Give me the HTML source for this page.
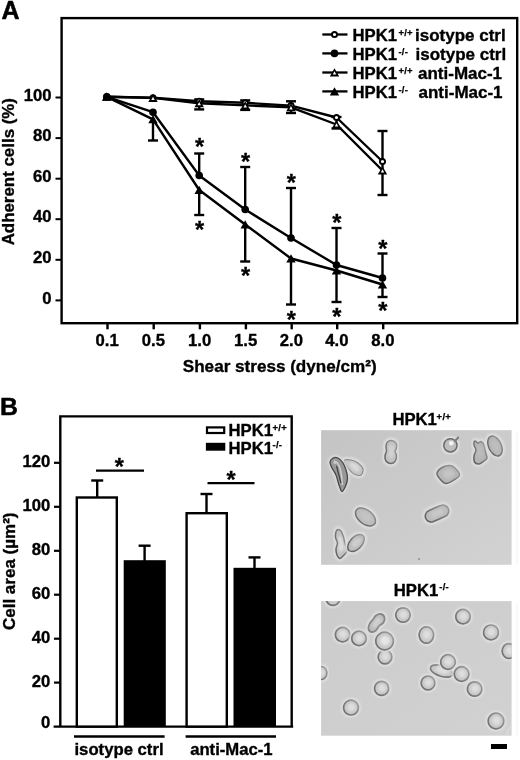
<!DOCTYPE html>
<html lang="en"><head><meta charset="utf-8"><title>Figure</title>
<style>html,body{margin:0;padding:0;background:#fff}svg{display:block}text{font-family:"Liberation Sans", Arial, sans-serif;font-weight:bold;fill:#000;stroke:#000;stroke-width:0.35px;stroke-linejoin:round}</style></head><body>
<svg width="520" height="760" viewBox="0 0 520 760">
<defs>
<filter id="bl" x="-20%" y="-20%" width="140%" height="140%"><feGaussianBlur stdDeviation="0.7"/></filter>
<filter id="bl2" x="-20%" y="-20%" width="140%" height="140%"><feGaussianBlur stdDeviation="1.2"/></filter>
<linearGradient id="bg1" x1="0" y1="0" x2="1" y2="1"><stop offset="0" stop-color="#c4c4c4"/><stop offset="1" stop-color="#d2d2d2"/></linearGradient>
<linearGradient id="bg2" x1="0" y1="0" x2="1" y2="1"><stop offset="0" stop-color="#cccccc"/><stop offset="1" stop-color="#d1d1d1"/></linearGradient>
<radialGradient id="cell" cx="0.5" cy="0.5" r="0.5"><stop offset="0" stop-color="#c2c2c2"/><stop offset="0.7" stop-color="#b8b8b8"/><stop offset="1" stop-color="#a8a8a8"/></radialGradient>
<linearGradient id="rg" x1="0" y1="1" x2="1" y2="0"><stop offset="0" stop-color="#6a6a6a"/><stop offset="0.55" stop-color="#858585"/><stop offset="1" stop-color="#a4a4a4"/></linearGradient>
<linearGradient id="rg1" x1="0" y1="1" x2="1" y2="0"><stop offset="0" stop-color="#5c5c5c"/><stop offset="0.5" stop-color="#787878"/><stop offset="1" stop-color="#a0a0a0"/></linearGradient>
<clipPath id="cp1"><rect x="321.1" y="430.2" width="190.5" height="134.6"/></clipPath>
<clipPath id="cp2"><rect x="321.1" y="601.1" width="190.5" height="134.6"/></clipPath>
</defs>
<rect width="520" height="760" fill="#fff"/>
<text x="1.6" y="19.2" font-size="25" style="stroke-width:0.5px">A</text>
<rect x="61.6" y="18.1" width="455.6" height="305.09999999999997" fill="none" stroke="#000" stroke-width="2.4"/>
<line x1="55.5" y1="300.4" x2="61.6" y2="300.4" stroke="#000" stroke-width="2"/>
<text x="51.6" y="303.6" font-size="16.7" text-anchor="end">0</text>
<line x1="55.5" y1="259.8" x2="61.6" y2="259.8" stroke="#000" stroke-width="2"/>
<text x="51.6" y="263.0" font-size="16.7" text-anchor="end">20</text>
<line x1="55.5" y1="219.2" x2="61.6" y2="219.2" stroke="#000" stroke-width="2"/>
<text x="51.6" y="222.4" font-size="16.7" text-anchor="end">40</text>
<line x1="55.5" y1="178.7" x2="61.6" y2="178.7" stroke="#000" stroke-width="2"/>
<text x="51.6" y="181.9" font-size="16.7" text-anchor="end">60</text>
<line x1="55.5" y1="138.1" x2="61.6" y2="138.1" stroke="#000" stroke-width="2"/>
<text x="51.6" y="141.3" font-size="16.7" text-anchor="end">80</text>
<line x1="55.5" y1="97.5" x2="61.6" y2="97.5" stroke="#000" stroke-width="2"/>
<text x="51.6" y="100.7" font-size="16.7" text-anchor="end">100</text>
<line x1="107.5" y1="323.2" x2="107.5" y2="329.3" stroke="#000" stroke-width="2.4"/>
<text x="107.2" y="346" font-size="16.7" text-anchor="middle">0.1</text>
<line x1="153.7" y1="323.2" x2="153.7" y2="329.3" stroke="#000" stroke-width="2.4"/>
<text x="153.39999999999998" y="346" font-size="16.7" text-anchor="middle">0.5</text>
<line x1="199.89999999999998" y1="323.2" x2="199.89999999999998" y2="329.3" stroke="#000" stroke-width="2.4"/>
<text x="199.59999999999997" y="346" font-size="16.7" text-anchor="middle">1.0</text>
<line x1="245.89999999999998" y1="323.2" x2="245.89999999999998" y2="329.3" stroke="#000" stroke-width="2.4"/>
<text x="245.59999999999997" y="346" font-size="16.7" text-anchor="middle">1.5</text>
<line x1="291.7" y1="323.2" x2="291.7" y2="329.3" stroke="#000" stroke-width="2.4"/>
<text x="291.4" y="346" font-size="16.7" text-anchor="middle">2.0</text>
<line x1="337.2" y1="323.2" x2="337.2" y2="329.3" stroke="#000" stroke-width="2.4"/>
<text x="336.9" y="346" font-size="16.7" text-anchor="middle">4.0</text>
<line x1="383.2" y1="323.2" x2="383.2" y2="329.3" stroke="#000" stroke-width="2.4"/>
<text x="382.9" y="346" font-size="16.7" text-anchor="middle">8.0</text>
<text x="279.7" y="371.8" font-size="17.1" text-anchor="middle">Shear stress (dyne/cm²)</text>
<text transform="translate(14,171.7) rotate(-90)" font-size="16.9" text-anchor="middle">Adherent cells (%)</text>
<line x1="199.2" y1="99.4" x2="199.2" y2="109.4" stroke="#000" stroke-width="2.4"/>
<line x1="194.2" y1="99.4" x2="204.2" y2="99.4" stroke="#000" stroke-width="2.4"/>
<line x1="194.2" y1="109.4" x2="204.2" y2="109.4" stroke="#000" stroke-width="2.4"/>
<line x1="245.2" y1="100.4" x2="245.2" y2="109.9" stroke="#000" stroke-width="2.4"/>
<line x1="240.2" y1="100.4" x2="250.2" y2="100.4" stroke="#000" stroke-width="2.4"/>
<line x1="240.2" y1="109.9" x2="250.2" y2="109.9" stroke="#000" stroke-width="2.4"/>
<line x1="291" y1="101.3" x2="291" y2="113" stroke="#000" stroke-width="2.4"/>
<line x1="286" y1="101.3" x2="296" y2="101.3" stroke="#000" stroke-width="2.4"/>
<line x1="286" y1="113" x2="296" y2="113" stroke="#000" stroke-width="2.4"/>
<line x1="336.5" y1="117" x2="336.5" y2="128.5" stroke="#000" stroke-width="2.4"/>
<line x1="331.5" y1="117" x2="341.5" y2="117" stroke="#000" stroke-width="2.4"/>
<line x1="331.5" y1="128.5" x2="341.5" y2="128.5" stroke="#000" stroke-width="2.4"/>
<line x1="382.5" y1="131" x2="382.5" y2="195" stroke="#000" stroke-width="2.4"/>
<line x1="377.5" y1="131" x2="387.5" y2="131" stroke="#000" stroke-width="2.4"/>
<line x1="377.5" y1="195" x2="387.5" y2="195" stroke="#000" stroke-width="2.4"/>
<line x1="199.2" y1="153.5" x2="199.2" y2="175.5" stroke="#000" stroke-width="2.4"/>
<line x1="194.2" y1="153.5" x2="204.2" y2="153.5" stroke="#000" stroke-width="2.4"/>
<line x1="245.2" y1="167" x2="245.2" y2="209.5" stroke="#000" stroke-width="2.4"/>
<line x1="240.2" y1="167" x2="250.2" y2="167" stroke="#000" stroke-width="2.4"/>
<line x1="291" y1="188" x2="291" y2="238" stroke="#000" stroke-width="2.4"/>
<line x1="286" y1="188" x2="296" y2="188" stroke="#000" stroke-width="2.4"/>
<line x1="336.5" y1="228" x2="336.5" y2="265" stroke="#000" stroke-width="2.4"/>
<line x1="331.5" y1="228" x2="341.5" y2="228" stroke="#000" stroke-width="2.4"/>
<line x1="382.5" y1="253.5" x2="382.5" y2="278" stroke="#000" stroke-width="2.4"/>
<line x1="377.5" y1="253.5" x2="387.5" y2="253.5" stroke="#000" stroke-width="2.4"/>
<line x1="153" y1="119.3" x2="153" y2="140.5" stroke="#000" stroke-width="2.4"/>
<line x1="148" y1="140.5" x2="158" y2="140.5" stroke="#000" stroke-width="2.4"/>
<line x1="199.2" y1="190" x2="199.2" y2="215" stroke="#000" stroke-width="2.4"/>
<line x1="194.2" y1="215" x2="204.2" y2="215" stroke="#000" stroke-width="2.4"/>
<line x1="245.2" y1="224.5" x2="245.2" y2="261.5" stroke="#000" stroke-width="2.4"/>
<line x1="240.2" y1="261.5" x2="250.2" y2="261.5" stroke="#000" stroke-width="2.4"/>
<line x1="291" y1="258.5" x2="291" y2="304.5" stroke="#000" stroke-width="2.4"/>
<line x1="286" y1="304.5" x2="296" y2="304.5" stroke="#000" stroke-width="2.4"/>
<line x1="336.5" y1="270.5" x2="336.5" y2="302" stroke="#000" stroke-width="2.4"/>
<line x1="331.5" y1="302" x2="341.5" y2="302" stroke="#000" stroke-width="2.4"/>
<line x1="382.5" y1="284.5" x2="382.5" y2="297" stroke="#000" stroke-width="2.4"/>
<line x1="377.5" y1="297" x2="387.5" y2="297" stroke="#000" stroke-width="2.4"/>
<polyline points="106.8,96.8 153,97.8 199.2,101.2 245.2,102.8 291,105.6 336.5,117.5 382.5,161.5" fill="none" stroke="#000" stroke-width="2.4" stroke-linejoin="round"/>
<polyline points="106.8,96.8 153,97.9 199.2,103.2 245.2,105.4 291,107.3 336.5,124.5 382.5,170.5" fill="none" stroke="#000" stroke-width="2.4" stroke-linejoin="round"/>
<polyline points="106.8,96.8 153,112.2 199.2,175.5 245.2,209.5 291,238 336.5,265 382.5,278" fill="none" stroke="#000" stroke-width="2.4" stroke-linejoin="round"/>
<polyline points="106.8,96.8 153,119.3 199.2,190 245.2,224.5 291,258.5 336.5,270.5 382.5,284.5" fill="none" stroke="#000" stroke-width="2.4" stroke-linejoin="round"/>
<circle cx="106.8" cy="96.8" r="2.55" fill="#fff" stroke="#000" stroke-width="1.9"/>
<circle cx="153" cy="97.8" r="2.55" fill="#fff" stroke="#000" stroke-width="1.9"/>
<circle cx="199.2" cy="101.2" r="2.55" fill="#fff" stroke="#000" stroke-width="1.9"/>
<circle cx="245.2" cy="102.8" r="2.55" fill="#fff" stroke="#000" stroke-width="1.9"/>
<circle cx="291" cy="105.6" r="2.55" fill="#fff" stroke="#000" stroke-width="1.9"/>
<circle cx="336.5" cy="117.5" r="2.55" fill="#fff" stroke="#000" stroke-width="1.9"/>
<circle cx="382.5" cy="161.5" r="2.55" fill="#fff" stroke="#000" stroke-width="1.9"/>
<path d="M106.8,92.6 L111.5,100.8 L102.1,100.8 Z" fill="#000"/>
<path d="M106.8,95.6 L108.5,98.89999999999999 L105.1,98.89999999999999 Z" fill="#fff"/>
<path d="M153,93.7 L157.7,101.9 L148.3,101.9 Z" fill="#000"/>
<path d="M153,96.7 L154.7,100.0 L151.3,100.0 Z" fill="#fff"/>
<path d="M199.2,99.0 L203.89999999999998,107.2 L194.5,107.2 Z" fill="#000"/>
<path d="M199.2,102.0 L200.89999999999998,105.3 L197.5,105.3 Z" fill="#fff"/>
<path d="M245.2,101.2 L249.89999999999998,109.4 L240.5,109.4 Z" fill="#000"/>
<path d="M245.2,104.2 L246.89999999999998,107.5 L243.5,107.5 Z" fill="#fff"/>
<path d="M291,103.1 L295.7,111.3 L286.3,111.3 Z" fill="#000"/>
<path d="M291,106.1 L292.7,109.39999999999999 L289.3,109.39999999999999 Z" fill="#fff"/>
<path d="M336.5,120.3 L341.2,128.5 L331.8,128.5 Z" fill="#000"/>
<path d="M336.5,123.3 L338.2,126.6 L334.8,126.6 Z" fill="#fff"/>
<path d="M382.5,166.3 L387.2,174.5 L377.8,174.5 Z" fill="#000"/>
<path d="M382.5,169.3 L384.2,172.6 L380.8,172.6 Z" fill="#fff"/>
<path d="M106.8,92.6 L111.5,100.8 L102.1,100.8 Z" fill="#000"/>
<path d="M153,115.1 L157.7,123.3 L148.3,123.3 Z" fill="#000"/>
<path d="M199.2,185.8 L203.89999999999998,194 L194.5,194 Z" fill="#000"/>
<path d="M245.2,220.3 L249.89999999999998,228.5 L240.5,228.5 Z" fill="#000"/>
<path d="M291,254.3 L295.7,262.5 L286.3,262.5 Z" fill="#000"/>
<path d="M336.5,266.3 L341.2,274.5 L331.8,274.5 Z" fill="#000"/>
<path d="M382.5,280.3 L387.2,288.5 L377.8,288.5 Z" fill="#000"/>
<circle cx="106.8" cy="96.8" r="3.8" fill="#000"/>
<circle cx="153" cy="112.2" r="3.8" fill="#000"/>
<circle cx="199.2" cy="175.5" r="3.8" fill="#000"/>
<circle cx="245.2" cy="209.5" r="3.8" fill="#000"/>
<circle cx="291" cy="238" r="3.8" fill="#000"/>
<circle cx="336.5" cy="265" r="3.8" fill="#000"/>
<circle cx="382.5" cy="278" r="3.8" fill="#000"/>
<text x="199.5" y="155.3" font-size="23.5" style="stroke-width:0.3px" text-anchor="middle">*</text>
<text x="245.5" y="170.3" font-size="23.5" style="stroke-width:0.3px" text-anchor="middle">*</text>
<text x="291.3" y="191.3" font-size="23.5" style="stroke-width:0.3px" text-anchor="middle">*</text>
<text x="336.8" y="230.8" font-size="23.5" style="stroke-width:0.3px" text-anchor="middle">*</text>
<text x="382.8" y="257.3" font-size="23.5" style="stroke-width:0.3px" text-anchor="middle">*</text>
<text x="199.5" y="238.3" font-size="23.5" style="stroke-width:0.3px" text-anchor="middle">*</text>
<text x="245.5" y="284.3" font-size="23.5" style="stroke-width:0.3px" text-anchor="middle">*</text>
<text x="291.3" y="327.8" font-size="23.5" style="stroke-width:0.3px" text-anchor="middle">*</text>
<text x="336.8" y="325.3" font-size="23.5" style="stroke-width:0.3px" text-anchor="middle">*</text>
<text x="382.8" y="319.3" font-size="23.5" style="stroke-width:0.3px" text-anchor="middle">*</text>
<line x1="322.3" y1="34.5" x2="347.5" y2="34.5" stroke="#000" stroke-width="2.3"/>
<circle cx="334.5" cy="34.5" r="2.55" fill="#fff" stroke="#000" stroke-width="1.9"/>
<text x="352.5" y="41.0" font-size="16.7">HPK1</text>
<text x="398.4" y="35.8" font-size="9.5" style="stroke-width:0.25px;letter-spacing:0.25px">+/+</text>
<text x="415" y="41.0" font-size="17">isotype ctrl</text>
<line x1="322.3" y1="53.4" x2="347.5" y2="53.4" stroke="#000" stroke-width="2.3"/>
<circle cx="334.5" cy="53.4" r="3.8" fill="#000"/>
<text x="352.5" y="59.9" font-size="16.7">HPK1</text>
<text x="398.4" y="54.699999999999996" font-size="9.5" style="stroke-width:0.25px;letter-spacing:0.25px">-/-</text>
<text x="415.5" y="60.3" font-size="17">isotype ctrl</text>
<line x1="322.3" y1="72.5" x2="347.5" y2="72.5" stroke="#000" stroke-width="2.3"/>
<path d="M334.5,68.3 L339.2,76.5 L329.8,76.5 Z" fill="#000"/>
<path d="M334.5,71.3 L336.2,74.6 L332.8,74.6 Z" fill="#fff"/>
<text x="352.5" y="79.0" font-size="16.7">HPK1</text>
<text x="398.4" y="73.8" font-size="9.5" style="stroke-width:0.25px;letter-spacing:0.25px">+/+</text>
<text x="418" y="79.0" font-size="17">anti-Mac-1</text>
<line x1="322.3" y1="91.4" x2="347.5" y2="91.4" stroke="#000" stroke-width="2.3"/>
<path d="M334.5,87.2 L339.2,95.4 L329.8,95.4 Z" fill="#000"/>
<text x="352.5" y="97.9" font-size="16.7">HPK1</text>
<text x="398.4" y="92.7" font-size="9.5" style="stroke-width:0.25px;letter-spacing:0.25px">-/-</text>
<text x="418.5" y="97.9" font-size="17">anti-Mac-1</text>
<text x="-0.1" y="415.4" font-size="24.8" style="stroke-width:0.5px">B</text>
<path d="M60.3,726.6 V416.4 H291.7 V726.6" fill="none" stroke="#000" stroke-width="2.4"/>
<line x1="53.6" y1="726.6" x2="293.2" y2="726.6" stroke="#000" stroke-width="2.4"/>
<text x="50.4" y="728.0" font-size="16.7" text-anchor="end">0</text>
<line x1="54" y1="682.6" x2="60" y2="682.6" stroke="#000" stroke-width="2.2"/>
<text x="50.4" y="686.6" font-size="16.7" text-anchor="end">20</text>
<line x1="54" y1="638.7" x2="60" y2="638.7" stroke="#000" stroke-width="2.2"/>
<text x="50.4" y="642.7" font-size="16.7" text-anchor="end">40</text>
<line x1="54" y1="594.7" x2="60" y2="594.7" stroke="#000" stroke-width="2.2"/>
<text x="50.4" y="598.7" font-size="16.7" text-anchor="end">60</text>
<line x1="54" y1="550.8" x2="60" y2="550.8" stroke="#000" stroke-width="2.2"/>
<text x="50.4" y="554.8" font-size="16.7" text-anchor="end">80</text>
<line x1="54" y1="506.8" x2="60" y2="506.8" stroke="#000" stroke-width="2.2"/>
<text x="50.4" y="510.8" font-size="16.7" text-anchor="end">100</text>
<line x1="54" y1="462.8" x2="60" y2="462.8" stroke="#000" stroke-width="2.2"/>
<text x="50.4" y="466.8" font-size="16.7" text-anchor="end">120</text>
<text transform="translate(14.5,571.3) rotate(-90)" font-size="17" text-anchor="middle">Cell area (µm²)</text>
<line x1="97.2" y1="497" x2="97.2" y2="480.5" stroke="#000" stroke-width="2.4"/>
<line x1="91.2" y1="480.5" x2="103.2" y2="480.5" stroke="#000" stroke-width="2.4"/>
<line x1="144.6" y1="561" x2="144.6" y2="545.7" stroke="#000" stroke-width="2.4"/>
<line x1="138.6" y1="545.7" x2="150.6" y2="545.7" stroke="#000" stroke-width="2.4"/>
<line x1="206.5" y1="512.5" x2="206.5" y2="494" stroke="#000" stroke-width="2.4"/>
<line x1="200.5" y1="494" x2="212.5" y2="494" stroke="#000" stroke-width="2.4"/>
<line x1="254.5" y1="568" x2="254.5" y2="557.4" stroke="#000" stroke-width="2.4"/>
<line x1="248.5" y1="557.4" x2="260.5" y2="557.4" stroke="#000" stroke-width="2.4"/>
<rect x="76.8" y="497.5" width="40.00000000000001" height="229.10000000000002" fill="#fff" stroke="#000" stroke-width="2.4"/>
<rect x="123.7" y="560.2" width="42.10000000000001" height="166.39999999999998" fill="#000"/>
<rect x="186.6" y="513.2" width="40.199999999999996" height="213.40000000000003" fill="#fff" stroke="#000" stroke-width="2.4"/>
<rect x="233.5" y="567.8" width="42.5" height="158.80000000000007" fill="#000"/>
<line x1="96" y1="470.6" x2="144" y2="470.6" stroke="#000" stroke-width="2.3"/>
<line x1="207.5" y1="483.2" x2="254.5" y2="483.2" stroke="#000" stroke-width="2.3"/>
<text x="119.4" y="475.3" font-size="23.5" style="stroke-width:0.3px" text-anchor="middle">*</text>
<text x="231" y="487.8" font-size="23.5" style="stroke-width:0.3px" text-anchor="middle">*</text>
<line x1="74" y1="736.6" x2="164.6" y2="736.6" stroke="#000" stroke-width="2.5"/>
<line x1="185.6" y1="736.6" x2="276" y2="736.6" stroke="#000" stroke-width="2.5"/>
<text x="119" y="754.6" font-size="16.7" text-anchor="middle">isotype ctrl</text>
<text x="231.4" y="754.6" font-size="16.7" text-anchor="middle">anti-Mac-1</text>
<rect x="207" y="427.4" width="17.2" height="5.6" fill="#fff" stroke="#000" stroke-width="2.2"/>
<rect x="205.9" y="442.8" width="19.4" height="7.9" fill="#000"/>
<text x="228.5" y="436.3" font-size="16.7">HPK1</text><text x="272.5" y="430.8" font-size="9.5" style="stroke-width:0.25px;letter-spacing:0.25px">+/+</text>
<text x="228.5" y="453.5" font-size="16.7">HPK1</text><text x="272.5" y="448" font-size="9.5" style="stroke-width:0.25px;letter-spacing:0.25px">-/-</text>
<text x="392.4" y="425.1" font-size="16.7">HPK1</text><text x="436.6" y="419.6" font-size="9.5" style="stroke-width:0.25px;letter-spacing:0.25px">+/+</text>
<text x="393.8" y="596.2" font-size="16.7">HPK1</text><text x="439.3" y="589.9" font-size="9.5" style="stroke-width:0.25px;letter-spacing:0.25px">-/-</text>
<rect x="321.1" y="430.2" width="190.5" height="134.6" fill="url(#bg1)"/>
<rect x="321.1" y="601.1" width="190.5" height="134.6" fill="url(#bg2)"/>
<g clip-path="url(#cp1)">
<path d="M391.5,440.5 C392.9,440.7 395.2,441.8 396.0,443.0 C396.8,444.2 396.7,446.6 396.5,448.0 C396.3,449.4 395.0,450.2 395.0,451.5 C395.0,452.8 396.5,454.3 396.5,456.0 C396.5,457.7 396.0,460.2 395.0,461.5 C394.0,462.8 392.0,463.6 390.5,463.5 C389.0,463.4 386.9,462.2 386.0,461.0 C385.1,459.8 384.9,457.7 385.0,456.0 C385.1,454.3 386.3,452.7 386.5,451.0 C386.7,449.3 385.8,447.5 386.0,446.0 C386.2,444.5 386.6,442.9 387.5,442.0 C388.4,441.1 390.1,440.3 391.5,440.5Z" fill="none" stroke="#dedede" stroke-width="5.9" filter="url(#bl2)"/>
<path d="M391.5,440.5 C392.9,440.7 395.2,441.8 396.0,443.0 C396.8,444.2 396.7,446.6 396.5,448.0 C396.3,449.4 395.0,450.2 395.0,451.5 C395.0,452.8 396.5,454.3 396.5,456.0 C396.5,457.7 396.0,460.2 395.0,461.5 C394.0,462.8 392.0,463.6 390.5,463.5 C389.0,463.4 386.9,462.2 386.0,461.0 C385.1,459.8 384.9,457.7 385.0,456.0 C385.1,454.3 386.3,452.7 386.5,451.0 C386.7,449.3 385.8,447.5 386.0,446.0 C386.2,444.5 386.6,442.9 387.5,442.0 C388.4,441.1 390.1,440.3 391.5,440.5Z" fill="#c2c2c2" stroke="url(#rg1)" stroke-width="1.5" filter="url(#bl)"/>
<path d="M391.7,445.1 C392.5,445.2 393.7,445.8 394.1,446.5 C394.6,447.2 394.5,448.5 394.4,449.3 C394.3,450.0 393.6,450.4 393.6,451.2 C393.6,451.9 394.4,452.7 394.4,453.7 C394.4,454.6 394.1,456.0 393.6,456.7 C393.0,457.4 391.9,457.8 391.1,457.8 C390.3,457.7 389.2,457.1 388.6,456.4 C388.1,455.7 388.1,454.6 388.1,453.7 C388.1,452.7 388.8,451.8 388.9,450.9 C389.0,450.0 388.6,449.0 388.6,448.2 C388.7,447.3 389.0,446.5 389.5,446.0 C390.0,445.4 390.9,445.0 391.7,445.1Z" fill="#d2d2d2" filter="url(#bl2)"/>
<path d="M344.0,461.0 C344.2,459.2 348.7,459.7 351.0,460.0 C353.3,460.3 356.0,461.5 358.0,463.0 C360.0,464.5 362.5,467.0 363.0,469.0 C363.5,471.0 362.3,474.1 361.0,475.0 C359.7,475.9 356.8,475.2 355.0,474.5 C353.2,473.8 351.8,472.8 350.0,470.5 C348.2,468.2 343.8,462.8 344.0,461.0Z" fill="none" stroke="#dedede" stroke-width="5.6000000000000005" filter="url(#bl2)"/>
<path d="M344.0,461.0 C344.2,459.2 348.7,459.7 351.0,460.0 C353.3,460.3 356.0,461.5 358.0,463.0 C360.0,464.5 362.5,467.0 363.0,469.0 C363.5,471.0 362.3,474.1 361.0,475.0 C359.7,475.9 356.8,475.2 355.0,474.5 C353.2,473.8 351.8,472.8 350.0,470.5 C348.2,468.2 343.8,462.8 344.0,461.0Z" fill="#c4c4c4" stroke="#8a8a8a" stroke-width="1.2" filter="url(#bl)"/>
<path d="M349.2,463.6 C349.2,462.6 351.7,462.8 353.0,463.0 C354.3,463.2 355.8,463.8 356.9,464.7 C358.0,465.5 359.3,466.9 359.6,468.0 C359.9,469.1 359.2,470.8 358.5,471.3 C357.8,471.8 356.2,471.4 355.2,471.0 C354.2,470.6 353.5,470.0 352.5,468.8 C351.4,467.5 349.1,464.5 349.2,463.6Z" fill="#dadada" filter="url(#bl2)"/>
<path d="M330.0,462.0 C330.2,460.3 331.7,458.7 333.0,458.0 C334.3,457.3 336.3,457.2 338.0,458.0 C339.7,458.8 341.7,461.0 343.0,463.0 C344.3,465.0 345.2,467.5 346.0,470.0 C346.8,472.5 347.5,475.5 347.5,478.0 C347.5,480.5 346.9,482.8 346.0,485.0 C345.1,487.2 343.2,491.5 342.0,491.5 C340.8,491.5 340.0,487.8 339.0,485.0 C338.0,482.2 337.2,477.8 336.0,475.0 C334.8,472.2 333.0,470.2 332.0,468.0 C331.0,465.8 329.8,463.7 330.0,462.0Z" fill="none" stroke="#dedede" stroke-width="4.5" filter="url(#bl2)"/>
<path d="M330.0,462.0 C330.2,460.3 331.7,458.7 333.0,458.0 C334.3,457.3 336.3,457.2 338.0,458.0 C339.7,458.8 341.7,461.0 343.0,463.0 C344.3,465.0 345.2,467.5 346.0,470.0 C346.8,472.5 347.5,475.5 347.5,478.0 C347.5,480.5 346.9,482.8 346.0,485.0 C345.1,487.2 343.2,491.5 342.0,491.5 C340.8,491.5 340.0,487.8 339.0,485.0 C338.0,482.2 337.2,477.8 336.0,475.0 C334.8,472.2 333.0,470.2 332.0,468.0 C331.0,465.8 329.8,463.7 330.0,462.0Z" fill="#989898" stroke="#484848" stroke-width="1.3" filter="url(#bl)"/>
<path d="M334,461 Q338,462 340,468 Q342,476 342.5,485" fill="none" stroke="#d2d2d2" stroke-width="1.4" filter="url(#bl)"/>
<path d="M336.5,466 Q338.5,474 341,483" fill="none" stroke="#3c3c3c" stroke-width="1.1" filter="url(#bl)"/>
<circle cx="335" cy="462.5" r="1.6" fill="#c8c8c8" filter="url(#bl)"/>
<path d="M457.0,445.3 C457.0,446.4 456.7,447.6 456.1,448.6 C455.6,449.6 454.7,450.5 453.7,451.0 C452.7,451.6 451.5,451.9 450.4,451.9 C449.3,451.9 448.1,451.6 447.1,451.0 C446.1,450.5 445.2,449.6 444.7,448.6 C444.1,447.6 443.8,446.4 443.8,445.3 C443.8,444.2 444.1,443.0 444.7,442.0 C445.2,441.0 446.1,440.1 447.1,439.6 C448.1,439.0 449.3,438.7 450.4,438.7 C451.5,438.7 452.7,439.0 453.7,439.6 C454.7,440.1 455.6,441.0 456.1,442.0 C456.7,443.0 457.0,444.2 457.0,445.3Z" fill="none" stroke="#dedede" stroke-width="5.9" filter="url(#bl2)"/>
<path d="M457.0,445.3 C457.0,446.4 456.7,447.6 456.1,448.6 C455.6,449.6 454.7,450.5 453.7,451.0 C452.7,451.6 451.5,451.9 450.4,451.9 C449.3,451.9 448.1,451.6 447.1,451.0 C446.1,450.5 445.2,449.6 444.7,448.6 C444.1,447.6 443.8,446.4 443.8,445.3 C443.8,444.2 444.1,443.0 444.7,442.0 C445.2,441.0 446.1,440.1 447.1,439.6 C448.1,439.0 449.3,438.7 450.4,438.7 C451.5,438.7 452.7,439.0 453.7,439.6 C454.7,440.1 455.6,441.0 456.1,442.0 C456.7,443.0 457.0,444.2 457.0,445.3Z" fill="#bebebe" stroke="#6a6a6a" stroke-width="1.5" filter="url(#bl)"/>
<path d="M455,441 L458.3,437.5" stroke="#808080" stroke-width="2.2" stroke-linecap="round" filter="url(#bl)"/>
<circle cx="451.3" cy="443.3" r="2.3" fill="#f4f4f4" filter="url(#bl)"/>
<path d="M475.0,441.0 C475.7,440.7 477.0,442.9 478.0,443.0 C479.0,443.1 480.0,441.2 481.0,441.5 C482.0,441.8 483.2,443.2 484.0,445.0 C484.8,446.8 485.0,449.8 485.5,452.0 C486.0,454.2 487.2,456.5 487.0,458.0 C486.8,459.5 485.3,460.0 484.0,461.0 C482.7,462.0 480.6,463.8 479.0,464.0 C477.4,464.2 475.3,463.3 474.5,462.0 C473.7,460.7 473.8,458.0 474.0,456.0 C474.2,454.0 476.0,451.8 476.0,450.0 C476.0,448.2 474.2,446.5 474.0,445.0 C473.8,443.5 474.3,441.3 475.0,441.0Z" fill="none" stroke="#dedede" stroke-width="5.9" filter="url(#bl2)"/>
<path d="M475.0,441.0 C475.7,440.7 477.0,442.9 478.0,443.0 C479.0,443.1 480.0,441.2 481.0,441.5 C482.0,441.8 483.2,443.2 484.0,445.0 C484.8,446.8 485.0,449.8 485.5,452.0 C486.0,454.2 487.2,456.5 487.0,458.0 C486.8,459.5 485.3,460.0 484.0,461.0 C482.7,462.0 480.6,463.8 479.0,464.0 C477.4,464.2 475.3,463.3 474.5,462.0 C473.7,460.7 473.8,458.0 474.0,456.0 C474.2,454.0 476.0,451.8 476.0,450.0 C476.0,448.2 474.2,446.5 474.0,445.0 C473.8,443.5 474.3,441.3 475.0,441.0Z" fill="#b4b4b4" stroke="url(#rg1)" stroke-width="1.5" filter="url(#bl)"/>
<path d="M477.3,445.3 C477.7,445.2 478.4,446.4 479.0,446.4 C479.5,446.5 480.1,445.4 480.6,445.6 C481.2,445.8 481.9,446.6 482.3,447.5 C482.7,448.5 482.8,450.2 483.1,451.4 C483.4,452.6 484.1,453.9 483.9,454.7 C483.8,455.5 483.0,455.8 482.3,456.3 C481.6,456.9 480.4,457.9 479.5,458.0 C478.7,458.1 477.5,457.6 477.1,456.9 C476.6,456.2 476.7,454.7 476.8,453.6 C476.9,452.5 477.9,451.3 477.9,450.3 C477.9,449.3 476.9,448.4 476.8,447.5 C476.7,446.7 477.0,445.5 477.3,445.3Z" fill="#bcbcbc" filter="url(#bl2)"/>
<path d="M500.7,443.3 C501.4,444.9 502.0,446.9 502.2,448.5 C502.3,450.0 502.2,451.7 501.7,452.9 C501.2,454.1 500.4,455.1 499.4,455.5 C498.5,456.0 497.2,456.0 496.0,455.6 C494.8,455.2 493.4,454.2 492.3,453.1 C491.2,451.9 490.0,450.2 489.3,448.7 C488.6,447.1 488.0,445.1 487.8,443.5 C487.7,442.0 487.8,440.3 488.3,439.1 C488.8,437.9 489.6,436.9 490.6,436.5 C491.5,436.0 492.8,436.0 494.0,436.4 C495.2,436.8 496.6,437.8 497.7,438.9 C498.8,440.1 500.0,441.8 500.7,443.3Z" fill="none" stroke="#dedede" stroke-width="5.9" filter="url(#bl2)"/>
<path d="M500.7,443.3 C501.4,444.9 502.0,446.9 502.2,448.5 C502.3,450.0 502.2,451.7 501.7,452.9 C501.2,454.1 500.4,455.1 499.4,455.5 C498.5,456.0 497.2,456.0 496.0,455.6 C494.8,455.2 493.4,454.2 492.3,453.1 C491.2,451.9 490.0,450.2 489.3,448.7 C488.6,447.1 488.0,445.1 487.8,443.5 C487.7,442.0 487.8,440.3 488.3,439.1 C488.8,437.9 489.6,436.9 490.6,436.5 C491.5,436.0 492.8,436.0 494.0,436.4 C495.2,436.8 496.6,437.8 497.7,438.9 C498.8,440.1 500.0,441.8 500.7,443.3Z" fill="#b6b6b6" stroke="url(#rg1)" stroke-width="1.5" filter="url(#bl)"/>
<path d="M498.5,444.1 C498.9,445.0 499.2,446.1 499.3,446.9 C499.4,447.8 499.3,448.8 499.1,449.4 C498.8,450.0 498.4,450.6 497.8,450.8 C497.3,451.1 496.6,451.1 495.9,450.9 C495.3,450.6 494.5,450.1 493.9,449.5 C493.3,448.9 492.7,447.9 492.3,447.1 C491.9,446.2 491.6,445.1 491.5,444.3 C491.4,443.4 491.5,442.4 491.7,441.8 C492.0,441.2 492.4,440.6 493.0,440.4 C493.5,440.1 494.2,440.1 494.9,440.3 C495.5,440.6 496.3,441.1 496.9,441.7 C497.5,442.3 498.1,443.3 498.5,444.1Z" fill="#bebebe" filter="url(#bl2)"/>
<path d="M437.0,473.0 C437.5,471.0 440.8,468.2 443.0,467.0 C445.2,465.8 448.0,465.3 450.0,465.5 C452.0,465.7 453.4,466.4 455.0,468.0 C456.6,469.6 459.7,473.0 459.5,475.0 C459.3,477.0 456.2,478.6 454.0,480.0 C451.8,481.4 448.3,483.7 446.0,483.5 C443.7,483.3 441.5,480.8 440.0,479.0 C438.5,477.2 436.5,475.0 437.0,473.0Z" fill="none" stroke="#dedede" stroke-width="5.9" filter="url(#bl2)"/>
<path d="M437.0,473.0 C437.5,471.0 440.8,468.2 443.0,467.0 C445.2,465.8 448.0,465.3 450.0,465.5 C452.0,465.7 453.4,466.4 455.0,468.0 C456.6,469.6 459.7,473.0 459.5,475.0 C459.3,477.0 456.2,478.6 454.0,480.0 C451.8,481.4 448.3,483.7 446.0,483.5 C443.7,483.3 441.5,480.8 440.0,479.0 C438.5,477.2 436.5,475.0 437.0,473.0Z" fill="#b6b6b6" stroke="url(#rg1)" stroke-width="1.5" filter="url(#bl)"/>
<path d="M442.4,473.0 C442.7,471.9 444.5,470.4 445.7,469.7 C446.9,469.0 448.4,468.8 449.5,468.9 C450.6,469.0 451.4,469.4 452.3,470.2 C453.1,471.1 454.8,473.0 454.8,474.1 C454.7,475.2 453.0,476.1 451.7,476.8 C450.5,477.6 448.6,478.9 447.3,478.8 C446.0,478.7 444.9,477.3 444.0,476.3 C443.2,475.3 442.1,474.1 442.4,473.0Z" fill="#c4c4c4" filter="url(#bl2)"/>
<path d="M374.6,524.1 C373.8,525.0 372.6,525.7 371.2,525.9 C369.8,526.1 368.0,525.9 366.3,525.3 C364.6,524.8 362.7,523.7 361.2,522.5 C359.7,521.3 358.2,519.7 357.2,518.2 C356.3,516.8 355.6,515.0 355.5,513.6 C355.4,512.2 355.7,510.8 356.4,509.9 C357.2,509.0 358.4,508.3 359.8,508.1 C361.2,507.9 363.0,508.1 364.7,508.7 C366.4,509.2 368.3,510.3 369.8,511.5 C371.3,512.7 372.8,514.3 373.8,515.8 C374.7,517.2 375.4,519.0 375.5,520.4 C375.6,521.8 375.3,523.2 374.6,524.1Z" fill="none" stroke="#dedede" stroke-width="5.9" filter="url(#bl2)"/>
<path d="M374.6,524.1 C373.8,525.0 372.6,525.7 371.2,525.9 C369.8,526.1 368.0,525.9 366.3,525.3 C364.6,524.8 362.7,523.7 361.2,522.5 C359.7,521.3 358.2,519.7 357.2,518.2 C356.3,516.8 355.6,515.0 355.5,513.6 C355.4,512.2 355.7,510.8 356.4,509.9 C357.2,509.0 358.4,508.3 359.8,508.1 C361.2,507.9 363.0,508.1 364.7,508.7 C366.4,509.2 368.3,510.3 369.8,511.5 C371.3,512.7 372.8,514.3 373.8,515.8 C374.7,517.2 375.4,519.0 375.5,520.4 C375.6,521.8 375.3,523.2 374.6,524.1Z" fill="#bcbcbc" stroke="url(#rg1)" stroke-width="1.5" filter="url(#bl)"/>
<path d="M370.9,520.5 C370.5,521.0 369.8,521.4 369.0,521.5 C368.3,521.6 367.3,521.5 366.3,521.2 C365.4,520.9 364.4,520.3 363.5,519.6 C362.7,519.0 361.9,518.1 361.4,517.3 C360.8,516.5 360.5,515.5 360.4,514.7 C360.3,514.0 360.5,513.2 360.9,512.7 C361.3,512.2 362.0,511.8 362.8,511.7 C363.5,511.6 364.5,511.7 365.5,512.0 C366.4,512.3 367.4,512.9 368.3,513.6 C369.1,514.2 369.9,515.1 370.4,515.9 C371.0,516.7 371.3,517.7 371.4,518.5 C371.5,519.2 371.3,520.0 370.9,520.5Z" fill="#c4c4c4" filter="url(#bl2)"/>
<path d="M337.0,530.0 C337.9,529.0 339.9,529.8 341.0,531.0 C342.1,532.2 342.8,534.8 343.5,537.0 C344.2,539.2 344.4,541.7 345.0,544.0 C345.6,546.3 347.2,549.2 347.0,551.0 C346.8,552.8 345.2,553.8 344.0,555.0 C342.8,556.2 341.2,558.5 340.0,558.5 C338.8,558.5 337.7,556.6 337.0,555.0 C336.3,553.4 335.9,551.0 336.0,549.0 C336.1,547.0 337.6,545.0 337.5,543.0 C337.4,541.0 335.6,539.2 335.5,537.0 C335.4,534.8 336.1,531.0 337.0,530.0Z" fill="none" stroke="#dedede" stroke-width="5.9" filter="url(#bl2)"/>
<path d="M337.0,530.0 C337.9,529.0 339.9,529.8 341.0,531.0 C342.1,532.2 342.8,534.8 343.5,537.0 C344.2,539.2 344.4,541.7 345.0,544.0 C345.6,546.3 347.2,549.2 347.0,551.0 C346.8,552.8 345.2,553.8 344.0,555.0 C342.8,556.2 341.2,558.5 340.0,558.5 C338.8,558.5 337.7,556.6 337.0,555.0 C336.3,553.4 335.9,551.0 336.0,549.0 C336.1,547.0 337.6,545.0 337.5,543.0 C337.4,541.0 335.6,539.2 335.5,537.0 C335.4,534.8 336.1,531.0 337.0,530.0Z" fill="#c2c2c2" stroke="url(#rg1)" stroke-width="1.5" filter="url(#bl)"/>
<path d="M338.9,536.2 C339.4,535.6 340.5,536.1 341.1,536.7 C341.7,537.4 342.1,538.8 342.5,540.0 C342.8,541.2 343.0,542.6 343.3,543.9 C343.6,545.1 344.5,546.7 344.4,547.7 C344.3,548.7 343.4,549.2 342.7,549.9 C342.1,550.6 341.2,551.8 340.5,551.8 C339.9,551.8 339.3,550.8 338.9,549.9 C338.5,549.0 338.3,547.7 338.3,546.6 C338.4,545.5 339.2,544.4 339.2,543.3 C339.1,542.2 338.1,541.2 338.1,540.0 C338.0,538.8 338.4,536.7 338.9,536.2Z" fill="#dedede" filter="url(#bl2)"/>
<path d="M363.0,535.5 C363.7,536.2 364.2,537.4 364.2,538.6 C364.3,539.8 363.9,541.4 363.3,542.8 C362.6,544.2 361.5,545.8 360.4,547.1 C359.2,548.3 357.7,549.5 356.3,550.3 C355.0,551.0 353.4,551.5 352.2,551.5 C351.0,551.5 349.8,551.1 349.0,550.5 C348.3,549.8 347.8,548.6 347.8,547.4 C347.7,546.2 348.1,544.6 348.7,543.2 C349.4,541.8 350.5,540.2 351.6,538.9 C352.8,537.7 354.3,536.5 355.7,535.7 C357.0,535.0 358.6,534.5 359.8,534.5 C361.0,534.5 362.2,534.9 363.0,535.5Z" fill="none" stroke="#dedede" stroke-width="5.9" filter="url(#bl2)"/>
<path d="M363.0,535.5 C363.7,536.2 364.2,537.4 364.2,538.6 C364.3,539.8 363.9,541.4 363.3,542.8 C362.6,544.2 361.5,545.8 360.4,547.1 C359.2,548.3 357.7,549.5 356.3,550.3 C355.0,551.0 353.4,551.5 352.2,551.5 C351.0,551.5 349.8,551.1 349.0,550.5 C348.3,549.8 347.8,548.6 347.8,547.4 C347.7,546.2 348.1,544.6 348.7,543.2 C349.4,541.8 350.5,540.2 351.6,538.9 C352.8,537.7 354.3,536.5 355.7,535.7 C357.0,535.0 358.6,534.5 359.8,534.5 C361.0,534.5 362.2,534.9 363.0,535.5Z" fill="#bcbcbc" stroke="url(#rg1)" stroke-width="1.5" filter="url(#bl)"/>
<path d="M360.2,538.5 C360.6,538.9 360.9,539.5 360.9,540.2 C360.9,540.8 360.8,541.7 360.4,542.5 C360.1,543.3 359.5,544.2 358.8,544.9 C358.2,545.5 357.3,546.2 356.6,546.6 C355.8,547.0 355.0,547.3 354.3,547.3 C353.6,547.3 353.0,547.1 352.6,546.7 C352.2,546.3 351.9,545.7 351.9,545.0 C351.9,544.4 352.0,543.5 352.4,542.7 C352.7,541.9 353.3,541.0 354.0,540.3 C354.6,539.7 355.5,539.0 356.2,538.6 C357.0,538.2 357.8,537.9 358.5,537.9 C359.2,537.9 359.8,538.1 360.2,538.5Z" fill="#cecece" filter="url(#bl2)"/>
<path d="M440.6,505.6 C443.1,504.6 442.6,505.0 443.5,505.1 C444.5,505.2 445.6,505.6 446.3,506.2 C447.1,506.7 447.8,507.6 448.2,508.5 C448.6,509.4 448.8,510.5 448.7,511.5 C448.6,512.4 448.2,513.5 447.6,514.3 C447.1,515.0 447.7,515.0 445.3,516.2 C442.9,517.4 435.9,520.5 433.4,521.4 C430.9,522.4 431.4,522.0 430.5,521.9 C429.5,521.8 428.4,521.4 427.7,520.8 C426.9,520.3 426.2,519.4 425.8,518.5 C425.4,517.6 425.2,516.5 425.3,515.5 C425.4,514.6 425.8,513.5 426.4,512.7 C426.9,512.0 426.3,512.0 428.7,510.8 C431.1,509.6 438.1,506.5 440.6,505.6Z" fill="none" stroke="#dedede" stroke-width="6.0" filter="url(#bl2)"/>
<path d="M440.6,505.6 C443.1,504.6 442.6,505.0 443.5,505.1 C444.5,505.2 445.6,505.6 446.3,506.2 C447.1,506.7 447.8,507.6 448.2,508.5 C448.6,509.4 448.8,510.5 448.7,511.5 C448.6,512.4 448.2,513.5 447.6,514.3 C447.1,515.0 447.7,515.0 445.3,516.2 C442.9,517.4 435.9,520.5 433.4,521.4 C430.9,522.4 431.4,522.0 430.5,521.9 C429.5,521.8 428.4,521.4 427.7,520.8 C426.9,520.3 426.2,519.4 425.8,518.5 C425.4,517.6 425.2,516.5 425.3,515.5 C425.4,514.6 425.8,513.5 426.4,512.7 C426.9,512.0 426.3,512.0 428.7,510.8 C431.1,509.6 438.1,506.5 440.6,505.6Z" fill="#bcbcbc" stroke="url(#rg1)" stroke-width="1.6" filter="url(#bl)"/>
<path d="M439.4,508.7 C440.7,508.2 440.5,508.4 441.0,508.5 C441.5,508.5 442.1,508.8 442.5,509.1 C443.0,509.4 443.4,509.9 443.6,510.3 C443.8,510.8 443.9,511.5 443.8,512.0 C443.8,512.5 443.6,513.1 443.2,513.5 C442.9,514.0 443.3,513.9 442.0,514.6 C440.7,515.2 436.8,516.9 435.4,517.5 C434.1,518.0 434.3,517.8 433.8,517.7 C433.3,517.7 432.7,517.4 432.3,517.1 C431.8,516.8 431.4,516.3 431.2,515.9 C431.0,515.4 430.9,514.7 431.0,514.2 C431.0,513.7 431.2,513.1 431.6,512.7 C431.9,512.2 431.5,512.3 432.8,511.6 C434.1,511.0 438.0,509.3 439.4,508.7Z" fill="#c8c8c8" filter="url(#bl2)"/>
<circle cx="419" cy="559" r="0.9" fill="#8a8a8a" filter="url(#bl)"/>
</g>
<g clip-path="url(#cp2)">
<path d="M381.0,614.0 C382.4,614.3 384.1,616.1 384.5,617.5 C384.9,618.9 384.4,621.1 383.5,622.5 C382.6,623.9 380.2,624.7 379.0,626.0 C377.8,627.3 377.2,629.5 376.0,630.5 C374.8,631.5 372.8,632.2 371.5,632.0 C370.2,631.8 368.8,630.3 368.5,629.0 C368.2,627.7 368.8,625.6 369.5,624.0 C370.2,622.4 371.9,620.9 373.0,619.5 C374.1,618.1 374.7,616.4 376.0,615.5 C377.3,614.6 379.6,613.7 381.0,614.0Z" fill="none" stroke="#e0e0e0" stroke-width="5.4" filter="url(#bl2)"/>
<path d="M381.0,614.0 C382.4,614.3 384.1,616.1 384.5,617.5 C384.9,618.9 384.4,621.1 383.5,622.5 C382.6,623.9 380.2,624.7 379.0,626.0 C377.8,627.3 377.2,629.5 376.0,630.5 C374.8,631.5 372.8,632.2 371.5,632.0 C370.2,631.8 368.8,630.3 368.5,629.0 C368.2,627.7 368.8,625.6 369.5,624.0 C370.2,622.4 371.9,620.9 373.0,619.5 C374.1,618.1 374.7,616.4 376.0,615.5 C377.3,614.6 379.6,613.7 381.0,614.0Z" fill="#bdbdbd" stroke="#858585" stroke-width="1.8" filter="url(#bl)"/>
<path d="M379.3,617.7 C380.0,617.9 381.0,618.8 381.2,619.6 C381.4,620.4 381.1,621.6 380.6,622.3 C380.1,623.1 378.8,623.5 378.2,624.3 C377.5,625.0 377.2,626.2 376.5,626.7 C375.8,627.3 374.7,627.7 374.0,627.6 C373.3,627.4 372.6,626.7 372.4,625.9 C372.2,625.2 372.5,624.0 372.9,623.2 C373.4,622.3 374.3,621.5 374.9,620.7 C375.5,619.9 375.8,619.0 376.5,618.5 C377.2,618.0 378.5,617.5 379.3,617.7Z" fill="#d0d0d0" filter="url(#bl2)"/>
<path d="M452.4,674.6 C452.2,675.4 451.3,676.2 450.2,676.6 C449.0,677.0 447.3,677.2 445.6,677.1 C443.8,677.0 441.7,676.6 439.9,676.0 C438.0,675.4 436.1,674.5 434.6,673.6 C433.2,672.7 431.9,671.5 431.2,670.4 C430.5,669.4 430.3,668.3 430.6,667.4 C430.8,666.6 431.7,665.8 432.8,665.4 C434.0,665.0 435.7,664.8 437.4,664.9 C439.2,665.0 441.3,665.4 443.1,666.0 C445.0,666.6 446.9,667.5 448.4,668.4 C449.8,669.3 451.1,670.5 451.8,671.6 C452.5,672.6 452.7,673.7 452.4,674.6Z" fill="none" stroke="#e0e0e0" stroke-width="5.3" filter="url(#bl2)"/>
<path d="M452.4,674.6 C452.2,675.4 451.3,676.2 450.2,676.6 C449.0,677.0 447.3,677.2 445.6,677.1 C443.8,677.0 441.7,676.6 439.9,676.0 C438.0,675.4 436.1,674.5 434.6,673.6 C433.2,672.7 431.9,671.5 431.2,670.4 C430.5,669.4 430.3,668.3 430.6,667.4 C430.8,666.6 431.7,665.8 432.8,665.4 C434.0,665.0 435.7,664.8 437.4,664.9 C439.2,665.0 441.3,665.4 443.1,666.0 C445.0,666.6 446.9,667.5 448.4,668.4 C449.8,669.3 451.1,670.5 451.8,671.6 C452.5,672.6 452.7,673.7 452.4,674.6Z" fill="#c8c8c8" stroke="url(#rg)" stroke-width="1.7" filter="url(#bl)"/>
<path d="M447.9,672.6 C447.8,673.0 447.3,673.4 446.7,673.7 C446.0,673.9 445.1,674.0 444.1,674.0 C443.2,673.9 442.0,673.7 441.0,673.4 C440.0,673.0 438.9,672.5 438.1,672.0 C437.3,671.5 436.6,670.9 436.2,670.3 C435.9,669.7 435.7,669.1 435.9,668.6 C436.0,668.2 436.5,667.8 437.1,667.5 C437.8,667.3 438.7,667.2 439.7,667.2 C440.6,667.3 441.8,667.5 442.8,667.8 C443.8,668.2 444.9,668.7 445.7,669.2 C446.5,669.7 447.2,670.3 447.6,670.9 C447.9,671.5 448.1,672.1 447.9,672.6Z" fill="#dedede" filter="url(#bl2)"/>
<path d="M340.0,598.3 C340.0,599.5 339.6,600.8 339.1,601.8 C338.5,602.8 337.5,603.8 336.5,604.4 C335.5,604.9 334.2,605.3 333.0,605.3 C331.8,605.3 330.5,604.9 329.5,604.4 C328.5,603.8 327.5,602.8 326.9,601.8 C326.4,600.8 326.0,599.5 326.0,598.3 C326.0,597.1 326.4,595.8 326.9,594.8 C327.5,593.8 328.5,592.8 329.5,592.2 C330.5,591.7 331.8,591.3 333.0,591.3 C334.2,591.3 335.5,591.7 336.5,592.2 C337.5,592.8 338.5,593.8 339.1,594.8 C339.6,595.8 340.0,597.1 340.0,598.3Z" fill="none" stroke="#e0e0e0" stroke-width="5.3" filter="url(#bl2)"/>
<path d="M340.0,598.3 C340.0,599.5 339.6,600.8 339.1,601.8 C338.5,602.8 337.5,603.8 336.5,604.4 C335.5,604.9 334.2,605.3 333.0,605.3 C331.8,605.3 330.5,604.9 329.5,604.4 C328.5,603.8 327.5,602.8 326.9,601.8 C326.4,600.8 326.0,599.5 326.0,598.3 C326.0,597.1 326.4,595.8 326.9,594.8 C327.5,593.8 328.5,592.8 329.5,592.2 C330.5,591.7 331.8,591.3 333.0,591.3 C334.2,591.3 335.5,591.7 336.5,592.2 C337.5,592.8 338.5,593.8 339.1,594.8 C339.6,595.8 340.0,597.1 340.0,598.3Z" fill="#c8c8c8" stroke="url(#rg)" stroke-width="1.7" filter="url(#bl)"/>
<path d="M337.2,597.9 C337.2,598.5 337.1,599.3 336.7,599.8 C336.4,600.4 335.9,600.9 335.3,601.2 C334.8,601.6 334.0,601.8 333.4,601.8 C332.8,601.8 332.0,601.6 331.5,601.2 C330.9,600.9 330.4,600.4 330.1,599.8 C329.7,599.3 329.5,598.5 329.5,597.9 C329.5,597.3 329.7,596.5 330.1,596.0 C330.4,595.4 330.9,594.9 331.5,594.6 C332.0,594.2 332.8,594.0 333.4,594.0 C334.0,594.0 334.8,594.2 335.3,594.6 C335.9,594.9 336.4,595.4 336.7,596.0 C337.1,596.5 337.2,597.3 337.2,597.9Z" fill="#dedede" filter="url(#bl2)"/>
<path d="M349.8,634.6 C349.8,635.8 349.4,637.2 348.8,638.2 C348.2,639.2 347.2,640.2 346.2,640.8 C345.2,641.4 343.8,641.8 342.6,641.8 C341.4,641.8 340.0,641.4 339.0,640.8 C338.0,640.2 337.0,639.2 336.4,638.2 C335.8,637.2 335.4,635.8 335.4,634.6 C335.4,633.4 335.8,632.0 336.4,631.0 C337.0,630.0 338.0,629.0 339.0,628.4 C340.0,627.8 341.4,627.4 342.6,627.4 C343.8,627.4 345.2,627.8 346.2,628.4 C347.2,629.0 348.2,630.0 348.8,631.0 C349.4,632.0 349.8,633.4 349.8,634.6Z" fill="none" stroke="#e0e0e0" stroke-width="5.3" filter="url(#bl2)"/>
<path d="M349.8,634.6 C349.8,635.8 349.4,637.2 348.8,638.2 C348.2,639.2 347.2,640.2 346.2,640.8 C345.2,641.4 343.8,641.8 342.6,641.8 C341.4,641.8 340.0,641.4 339.0,640.8 C338.0,640.2 337.0,639.2 336.4,638.2 C335.8,637.2 335.4,635.8 335.4,634.6 C335.4,633.4 335.8,632.0 336.4,631.0 C337.0,630.0 338.0,629.0 339.0,628.4 C340.0,627.8 341.4,627.4 342.6,627.4 C343.8,627.4 345.2,627.8 346.2,628.4 C347.2,629.0 348.2,630.0 348.8,631.0 C349.4,632.0 349.8,633.4 349.8,634.6Z" fill="#c8c8c8" stroke="url(#rg)" stroke-width="1.7" filter="url(#bl)"/>
<path d="M347.0,634.2 C347.0,634.9 346.8,635.6 346.4,636.2 C346.1,636.8 345.6,637.3 345.0,637.6 C344.4,638.0 343.7,638.2 343.0,638.2 C342.3,638.2 341.6,638.0 341.0,637.6 C340.4,637.3 339.9,636.8 339.6,636.2 C339.2,635.6 339.0,634.9 339.0,634.2 C339.0,633.5 339.2,632.8 339.6,632.2 C339.9,631.6 340.4,631.1 341.0,630.8 C341.6,630.4 342.3,630.2 343.0,630.2 C343.7,630.2 344.4,630.4 345.0,630.8 C345.6,631.1 346.1,631.6 346.4,632.2 C346.8,632.8 347.0,633.5 347.0,634.2Z" fill="#dedede" filter="url(#bl2)"/>
<path d="M366.2,638.4 C366.2,639.6 365.8,641.0 365.2,642.0 C364.6,643.0 363.6,644.0 362.6,644.6 C361.6,645.2 360.2,645.6 359.0,645.6 C357.8,645.6 356.4,645.2 355.4,644.6 C354.4,644.0 353.4,643.0 352.8,642.0 C352.2,641.0 351.8,639.6 351.8,638.4 C351.8,637.2 352.2,635.8 352.8,634.8 C353.4,633.8 354.4,632.8 355.4,632.2 C356.4,631.6 357.8,631.2 359.0,631.2 C360.2,631.2 361.6,631.6 362.6,632.2 C363.6,632.8 364.6,633.8 365.2,634.8 C365.8,635.8 366.2,637.2 366.2,638.4Z" fill="none" stroke="#e0e0e0" stroke-width="5.3" filter="url(#bl2)"/>
<path d="M366.2,638.4 C366.2,639.6 365.8,641.0 365.2,642.0 C364.6,643.0 363.6,644.0 362.6,644.6 C361.6,645.2 360.2,645.6 359.0,645.6 C357.8,645.6 356.4,645.2 355.4,644.6 C354.4,644.0 353.4,643.0 352.8,642.0 C352.2,641.0 351.8,639.6 351.8,638.4 C351.8,637.2 352.2,635.8 352.8,634.8 C353.4,633.8 354.4,632.8 355.4,632.2 C356.4,631.6 357.8,631.2 359.0,631.2 C360.2,631.2 361.6,631.6 362.6,632.2 C363.6,632.8 364.6,633.8 365.2,634.8 C365.8,635.8 366.2,637.2 366.2,638.4Z" fill="#c8c8c8" stroke="url(#rg)" stroke-width="1.7" filter="url(#bl)"/>
<path d="M363.4,638.0 C363.4,638.7 363.2,639.4 362.8,640.0 C362.5,640.6 362.0,641.1 361.4,641.4 C360.8,641.8 360.1,642.0 359.4,642.0 C358.7,642.0 358.0,641.8 357.4,641.4 C356.8,641.1 356.3,640.6 356.0,640.0 C355.6,639.4 355.4,638.7 355.4,638.0 C355.4,637.3 355.6,636.6 356.0,636.0 C356.3,635.4 356.8,634.9 357.4,634.6 C358.0,634.2 358.7,634.0 359.4,634.0 C360.1,634.0 360.8,634.2 361.4,634.6 C362.0,634.9 362.5,635.4 362.8,636.0 C363.2,636.6 363.4,637.3 363.4,638.0Z" fill="#dedede" filter="url(#bl2)"/>
<path d="M410.2,615.0 C410.2,616.2 409.8,617.6 409.2,618.6 C408.6,619.6 407.6,620.6 406.6,621.2 C405.6,621.8 404.2,622.2 403.0,622.2 C401.8,622.2 400.4,621.8 399.4,621.2 C398.4,620.6 397.4,619.6 396.8,618.6 C396.2,617.6 395.8,616.2 395.8,615.0 C395.8,613.8 396.2,612.4 396.8,611.4 C397.4,610.4 398.4,609.4 399.4,608.8 C400.4,608.2 401.8,607.8 403.0,607.8 C404.2,607.8 405.6,608.2 406.6,608.8 C407.6,609.4 408.6,610.4 409.2,611.4 C409.8,612.4 410.2,613.8 410.2,615.0Z" fill="none" stroke="#e0e0e0" stroke-width="5.3" filter="url(#bl2)"/>
<path d="M410.2,615.0 C410.2,616.2 409.8,617.6 409.2,618.6 C408.6,619.6 407.6,620.6 406.6,621.2 C405.6,621.8 404.2,622.2 403.0,622.2 C401.8,622.2 400.4,621.8 399.4,621.2 C398.4,620.6 397.4,619.6 396.8,618.6 C396.2,617.6 395.8,616.2 395.8,615.0 C395.8,613.8 396.2,612.4 396.8,611.4 C397.4,610.4 398.4,609.4 399.4,608.8 C400.4,608.2 401.8,607.8 403.0,607.8 C404.2,607.8 405.6,608.2 406.6,608.8 C407.6,609.4 408.6,610.4 409.2,611.4 C409.8,612.4 410.2,613.8 410.2,615.0Z" fill="#c8c8c8" stroke="url(#rg)" stroke-width="1.7" filter="url(#bl)"/>
<path d="M407.4,614.6 C407.4,615.3 407.2,616.0 406.8,616.6 C406.5,617.2 406.0,617.7 405.4,618.0 C404.8,618.4 404.1,618.6 403.4,618.6 C402.7,618.6 402.0,618.4 401.4,618.0 C400.8,617.7 400.3,617.2 400.0,616.6 C399.6,616.0 399.4,615.3 399.4,614.6 C399.4,613.9 399.6,613.2 400.0,612.6 C400.3,612.0 400.8,611.5 401.4,611.2 C402.0,610.8 402.7,610.6 403.4,610.6 C404.1,610.6 404.8,610.8 405.4,611.2 C406.0,611.5 406.5,612.0 406.8,612.6 C407.2,613.2 407.4,613.9 407.4,614.6Z" fill="#dedede" filter="url(#bl2)"/>
<path d="M391.8,657.0 C391.8,658.1 391.5,659.4 390.9,660.4 C390.3,661.4 389.4,662.3 388.4,662.9 C387.4,663.5 386.1,663.8 385.0,663.8 C383.9,663.8 382.6,663.5 381.6,662.9 C380.6,662.3 379.7,661.4 379.1,660.4 C378.5,659.4 378.2,658.1 378.2,657.0 C378.2,655.9 378.5,654.6 379.1,653.6 C379.7,652.6 380.6,651.7 381.6,651.1 C382.6,650.5 383.9,650.2 385.0,650.2 C386.1,650.2 387.4,650.5 388.4,651.1 C389.4,651.7 390.3,652.6 390.9,653.6 C391.5,654.6 391.8,655.9 391.8,657.0Z" fill="none" stroke="#e0e0e0" stroke-width="5.3" filter="url(#bl2)"/>
<path d="M391.8,657.0 C391.8,658.1 391.5,659.4 390.9,660.4 C390.3,661.4 389.4,662.3 388.4,662.9 C387.4,663.5 386.1,663.8 385.0,663.8 C383.9,663.8 382.6,663.5 381.6,662.9 C380.6,662.3 379.7,661.4 379.1,660.4 C378.5,659.4 378.2,658.1 378.2,657.0 C378.2,655.9 378.5,654.6 379.1,653.6 C379.7,652.6 380.6,651.7 381.6,651.1 C382.6,650.5 383.9,650.2 385.0,650.2 C386.1,650.2 387.4,650.5 388.4,651.1 C389.4,651.7 390.3,652.6 390.9,653.6 C391.5,654.6 391.8,655.9 391.8,657.0Z" fill="#c8c8c8" stroke="url(#rg)" stroke-width="1.7" filter="url(#bl)"/>
<path d="M389.1,656.6 C389.1,657.2 389.0,657.9 388.6,658.5 C388.3,659.0 387.8,659.5 387.3,659.8 C386.7,660.2 386.0,660.3 385.4,660.3 C384.8,660.3 384.1,660.2 383.5,659.8 C383.0,659.5 382.5,659.0 382.2,658.5 C381.8,657.9 381.7,657.2 381.7,656.6 C381.7,656.0 381.8,655.3 382.2,654.7 C382.5,654.2 383.0,653.7 383.5,653.4 C384.1,653.0 384.8,652.9 385.4,652.9 C386.0,652.9 386.7,653.0 387.3,653.4 C387.8,653.7 388.3,654.2 388.6,654.7 C389.0,655.3 389.1,656.0 389.1,656.6Z" fill="#dedede" filter="url(#bl2)"/>
<path d="M433.6,635.0 C433.6,636.4 433.2,637.9 432.6,639.1 C432.0,640.3 431.0,641.4 430.0,642.1 C429.0,642.8 427.6,643.2 426.4,643.2 C425.2,643.2 423.8,642.8 422.8,642.1 C421.8,641.4 420.8,640.3 420.2,639.1 C419.6,637.9 419.2,636.4 419.2,635.0 C419.2,633.6 419.6,632.1 420.2,630.9 C420.8,629.7 421.8,628.6 422.8,627.9 C423.8,627.2 425.2,626.8 426.4,626.8 C427.6,626.8 429.0,627.2 430.0,627.9 C431.0,628.6 432.0,629.7 432.6,630.9 C433.2,632.1 433.6,633.6 433.6,635.0Z" fill="none" stroke="#e0e0e0" stroke-width="5.3" filter="url(#bl2)"/>
<path d="M433.6,635.0 C433.6,636.4 433.2,637.9 432.6,639.1 C432.0,640.3 431.0,641.4 430.0,642.1 C429.0,642.8 427.6,643.2 426.4,643.2 C425.2,643.2 423.8,642.8 422.8,642.1 C421.8,641.4 420.8,640.3 420.2,639.1 C419.6,637.9 419.2,636.4 419.2,635.0 C419.2,633.6 419.6,632.1 420.2,630.9 C420.8,629.7 421.8,628.6 422.8,627.9 C423.8,627.2 425.2,626.8 426.4,626.8 C427.6,626.8 429.0,627.2 430.0,627.9 C431.0,628.6 432.0,629.7 432.6,630.9 C433.2,632.1 433.6,633.6 433.6,635.0Z" fill="#c8c8c8" stroke="url(#rg)" stroke-width="1.7" filter="url(#bl)"/>
<path d="M430.8,634.6 C430.8,635.4 430.6,636.2 430.2,636.9 C429.9,637.5 429.4,638.1 428.8,638.5 C428.2,638.9 427.5,639.1 426.8,639.1 C426.1,639.1 425.4,638.9 424.8,638.5 C424.2,638.1 423.7,637.5 423.4,636.9 C423.0,636.2 422.8,635.4 422.8,634.6 C422.8,633.8 423.0,633.0 423.4,632.3 C423.7,631.7 424.2,631.1 424.8,630.7 C425.4,630.3 426.1,630.1 426.8,630.1 C427.5,630.1 428.2,630.3 428.8,630.7 C429.4,631.1 429.9,631.7 430.2,632.3 C430.6,633.0 430.8,633.8 430.8,634.6Z" fill="#dedede" filter="url(#bl2)"/>
<path d="M470.2,616.6 C470.2,617.8 469.8,619.2 469.2,620.2 C468.6,621.2 467.6,622.2 466.6,622.8 C465.6,623.4 464.2,623.8 463.0,623.8 C461.8,623.8 460.4,623.4 459.4,622.8 C458.4,622.2 457.4,621.2 456.8,620.2 C456.2,619.2 455.8,617.8 455.8,616.6 C455.8,615.4 456.2,614.0 456.8,613.0 C457.4,612.0 458.4,611.0 459.4,610.4 C460.4,609.8 461.8,609.4 463.0,609.4 C464.2,609.4 465.6,609.8 466.6,610.4 C467.6,611.0 468.6,612.0 469.2,613.0 C469.8,614.0 470.2,615.4 470.2,616.6Z" fill="none" stroke="#e0e0e0" stroke-width="5.3" filter="url(#bl2)"/>
<path d="M470.2,616.6 C470.2,617.8 469.8,619.2 469.2,620.2 C468.6,621.2 467.6,622.2 466.6,622.8 C465.6,623.4 464.2,623.8 463.0,623.8 C461.8,623.8 460.4,623.4 459.4,622.8 C458.4,622.2 457.4,621.2 456.8,620.2 C456.2,619.2 455.8,617.8 455.8,616.6 C455.8,615.4 456.2,614.0 456.8,613.0 C457.4,612.0 458.4,611.0 459.4,610.4 C460.4,609.8 461.8,609.4 463.0,609.4 C464.2,609.4 465.6,609.8 466.6,610.4 C467.6,611.0 468.6,612.0 469.2,613.0 C469.8,614.0 470.2,615.4 470.2,616.6Z" fill="#c8c8c8" stroke="url(#rg)" stroke-width="1.7" filter="url(#bl)"/>
<path d="M467.4,616.2 C467.4,616.9 467.2,617.6 466.8,618.2 C466.5,618.8 466.0,619.3 465.4,619.6 C464.8,620.0 464.1,620.2 463.4,620.2 C462.7,620.2 462.0,620.0 461.4,619.6 C460.8,619.3 460.3,618.8 460.0,618.2 C459.6,617.6 459.4,616.9 459.4,616.2 C459.4,615.5 459.6,614.8 460.0,614.2 C460.3,613.6 460.8,613.1 461.4,612.8 C462.0,612.4 462.7,612.2 463.4,612.2 C464.1,612.2 464.8,612.4 465.4,612.8 C466.0,613.1 466.5,613.6 466.8,614.2 C467.2,614.8 467.4,615.5 467.4,616.2Z" fill="#dedede" filter="url(#bl2)"/>
<path d="M498.4,632.4 C498.4,633.6 498.0,635.0 497.4,636.1 C496.8,637.2 495.8,638.2 494.7,638.8 C493.6,639.4 492.2,639.8 491.0,639.8 C489.8,639.8 488.4,639.4 487.3,638.8 C486.2,638.2 485.2,637.2 484.6,636.1 C484.0,635.0 483.6,633.6 483.6,632.4 C483.6,631.2 484.0,629.8 484.6,628.7 C485.2,627.6 486.2,626.6 487.3,626.0 C488.4,625.4 489.8,625.0 491.0,625.0 C492.2,625.0 493.6,625.4 494.7,626.0 C495.8,626.6 496.8,627.6 497.4,628.7 C498.0,629.8 498.4,631.2 498.4,632.4Z" fill="none" stroke="#e0e0e0" stroke-width="5.3" filter="url(#bl2)"/>
<path d="M498.4,632.4 C498.4,633.6 498.0,635.0 497.4,636.1 C496.8,637.2 495.8,638.2 494.7,638.8 C493.6,639.4 492.2,639.8 491.0,639.8 C489.8,639.8 488.4,639.4 487.3,638.8 C486.2,638.2 485.2,637.2 484.6,636.1 C484.0,635.0 483.6,633.6 483.6,632.4 C483.6,631.2 484.0,629.8 484.6,628.7 C485.2,627.6 486.2,626.6 487.3,626.0 C488.4,625.4 489.8,625.0 491.0,625.0 C492.2,625.0 493.6,625.4 494.7,626.0 C495.8,626.6 496.8,627.6 497.4,628.7 C498.0,629.8 498.4,631.2 498.4,632.4Z" fill="#c8c8c8" stroke="url(#rg)" stroke-width="1.7" filter="url(#bl)"/>
<path d="M495.5,632.0 C495.5,632.7 495.3,633.4 494.9,634.0 C494.6,634.6 494.0,635.2 493.4,635.5 C492.8,635.9 492.1,636.1 491.4,636.1 C490.7,636.1 490.0,635.9 489.4,635.5 C488.8,635.2 488.2,634.6 487.9,634.0 C487.5,633.4 487.3,632.7 487.3,632.0 C487.3,631.3 487.5,630.6 487.9,630.0 C488.2,629.4 488.8,628.8 489.4,628.5 C490.0,628.1 490.7,627.9 491.4,627.9 C492.1,627.9 492.8,628.1 493.4,628.5 C494.0,628.8 494.6,629.4 494.9,630.0 C495.3,630.6 495.5,631.3 495.5,632.0Z" fill="#dedede" filter="url(#bl2)"/>
<path d="M515.8,651.0 C515.8,652.2 515.5,653.6 514.9,654.7 C514.3,655.8 513.4,656.8 512.4,657.4 C511.4,658.0 510.1,658.4 509.0,658.4 C507.9,658.4 506.6,658.0 505.6,657.4 C504.6,656.8 503.7,655.8 503.1,654.7 C502.5,653.6 502.2,652.2 502.2,651.0 C502.2,649.8 502.5,648.4 503.1,647.3 C503.7,646.2 504.6,645.2 505.6,644.6 C506.6,644.0 507.9,643.6 509.0,643.6 C510.1,643.6 511.4,644.0 512.4,644.6 C513.4,645.2 514.3,646.2 514.9,647.3 C515.5,648.4 515.8,649.8 515.8,651.0Z" fill="none" stroke="#e0e0e0" stroke-width="5.3" filter="url(#bl2)"/>
<path d="M515.8,651.0 C515.8,652.2 515.5,653.6 514.9,654.7 C514.3,655.8 513.4,656.8 512.4,657.4 C511.4,658.0 510.1,658.4 509.0,658.4 C507.9,658.4 506.6,658.0 505.6,657.4 C504.6,656.8 503.7,655.8 503.1,654.7 C502.5,653.6 502.2,652.2 502.2,651.0 C502.2,649.8 502.5,648.4 503.1,647.3 C503.7,646.2 504.6,645.2 505.6,644.6 C506.6,644.0 507.9,643.6 509.0,643.6 C510.1,643.6 511.4,644.0 512.4,644.6 C513.4,645.2 514.3,646.2 514.9,647.3 C515.5,648.4 515.8,649.8 515.8,651.0Z" fill="#c8c8c8" stroke="url(#rg)" stroke-width="1.7" filter="url(#bl)"/>
<path d="M513.1,650.6 C513.1,651.3 513.0,652.0 512.6,652.6 C512.3,653.2 511.8,653.8 511.3,654.1 C510.7,654.5 510.0,654.7 509.4,654.7 C508.8,654.7 508.1,654.5 507.5,654.1 C507.0,653.8 506.5,653.2 506.2,652.6 C505.8,652.0 505.7,651.3 505.7,650.6 C505.7,649.9 505.8,649.2 506.2,648.6 C506.5,648.0 507.0,647.4 507.5,647.1 C508.1,646.7 508.8,646.5 509.4,646.5 C510.0,646.5 510.7,646.7 511.3,647.1 C511.8,647.4 512.3,648.0 512.6,648.6 C513.0,649.2 513.1,649.9 513.1,650.6Z" fill="#dedede" filter="url(#bl2)"/>
<path d="M455.3,662.0 C455.3,663.2 454.9,664.6 454.3,665.6 C453.7,666.7 452.7,667.7 451.6,668.3 C450.6,668.9 449.2,669.3 448.0,669.3 C446.8,669.3 445.4,668.9 444.4,668.3 C443.3,667.7 442.3,666.7 441.7,665.6 C441.1,664.6 440.7,663.2 440.7,662.0 C440.7,660.8 441.1,659.4 441.7,658.4 C442.3,657.3 443.3,656.3 444.4,655.7 C445.4,655.1 446.8,654.7 448.0,654.7 C449.2,654.7 450.6,655.1 451.6,655.7 C452.7,656.3 453.7,657.3 454.3,658.4 C454.9,659.4 455.3,660.8 455.3,662.0Z" fill="none" stroke="#e0e0e0" stroke-width="5.3" filter="url(#bl2)"/>
<path d="M455.3,662.0 C455.3,663.2 454.9,664.6 454.3,665.6 C453.7,666.7 452.7,667.7 451.6,668.3 C450.6,668.9 449.2,669.3 448.0,669.3 C446.8,669.3 445.4,668.9 444.4,668.3 C443.3,667.7 442.3,666.7 441.7,665.6 C441.1,664.6 440.7,663.2 440.7,662.0 C440.7,660.8 441.1,659.4 441.7,658.4 C442.3,657.3 443.3,656.3 444.4,655.7 C445.4,655.1 446.8,654.7 448.0,654.7 C449.2,654.7 450.6,655.1 451.6,655.7 C452.7,656.3 453.7,657.3 454.3,658.4 C454.9,659.4 455.3,660.8 455.3,662.0Z" fill="#c8c8c8" stroke="url(#rg)" stroke-width="1.7" filter="url(#bl)"/>
<path d="M452.4,661.6 C452.4,662.3 452.2,663.0 451.9,663.6 C451.5,664.2 451.0,664.7 450.4,665.1 C449.8,665.4 449.1,665.6 448.4,665.6 C447.7,665.6 447.0,665.4 446.4,665.1 C445.8,664.7 445.3,664.2 444.9,663.6 C444.6,663.0 444.4,662.3 444.4,661.6 C444.4,660.9 444.6,660.2 444.9,659.6 C445.3,659.0 445.8,658.5 446.4,658.1 C447.0,657.8 447.7,657.6 448.4,657.6 C449.1,657.6 449.8,657.8 450.4,658.1 C451.0,658.5 451.5,659.0 451.9,659.6 C452.2,660.2 452.4,660.9 452.4,661.6Z" fill="#dedede" filter="url(#bl2)"/>
<path d="M468.9,674.0 C468.9,675.2 468.5,676.6 467.9,677.6 C467.3,678.7 466.3,679.7 465.2,680.3 C464.2,680.9 462.8,681.3 461.6,681.3 C460.4,681.3 459.0,680.9 458.0,680.3 C456.9,679.7 455.9,678.7 455.3,677.6 C454.7,676.6 454.3,675.2 454.3,674.0 C454.3,672.8 454.7,671.4 455.3,670.4 C455.9,669.3 456.9,668.3 458.0,667.7 C459.0,667.1 460.4,666.7 461.6,666.7 C462.8,666.7 464.2,667.1 465.2,667.7 C466.3,668.3 467.3,669.3 467.9,670.4 C468.5,671.4 468.9,672.8 468.9,674.0Z" fill="none" stroke="#e0e0e0" stroke-width="5.3" filter="url(#bl2)"/>
<path d="M468.9,674.0 C468.9,675.2 468.5,676.6 467.9,677.6 C467.3,678.7 466.3,679.7 465.2,680.3 C464.2,680.9 462.8,681.3 461.6,681.3 C460.4,681.3 459.0,680.9 458.0,680.3 C456.9,679.7 455.9,678.7 455.3,677.6 C454.7,676.6 454.3,675.2 454.3,674.0 C454.3,672.8 454.7,671.4 455.3,670.4 C455.9,669.3 456.9,668.3 458.0,667.7 C459.0,667.1 460.4,666.7 461.6,666.7 C462.8,666.7 464.2,667.1 465.2,667.7 C466.3,668.3 467.3,669.3 467.9,670.4 C468.5,671.4 468.9,672.8 468.9,674.0Z" fill="#c8c8c8" stroke="url(#rg)" stroke-width="1.7" filter="url(#bl)"/>
<path d="M466.0,673.6 C466.0,674.3 465.8,675.0 465.5,675.6 C465.1,676.2 464.6,676.7 464.0,677.1 C463.4,677.4 462.7,677.6 462.0,677.6 C461.3,677.6 460.6,677.4 460.0,677.1 C459.4,676.7 458.9,676.2 458.5,675.6 C458.2,675.0 458.0,674.3 458.0,673.6 C458.0,672.9 458.2,672.2 458.5,671.6 C458.9,671.0 459.4,670.5 460.0,670.1 C460.6,669.8 461.3,669.6 462.0,669.6 C462.7,669.6 463.4,669.8 464.0,670.1 C464.6,670.5 465.1,671.0 465.5,671.6 C465.8,672.2 466.0,672.9 466.0,673.6Z" fill="#dedede" filter="url(#bl2)"/>
<path d="M434.8,683.0 C434.8,684.1 434.5,685.4 433.9,686.4 C433.3,687.4 432.4,688.3 431.4,688.9 C430.4,689.5 429.1,689.8 428.0,689.8 C426.9,689.8 425.6,689.5 424.6,688.9 C423.6,688.3 422.7,687.4 422.1,686.4 C421.5,685.4 421.2,684.1 421.2,683.0 C421.2,681.9 421.5,680.6 422.1,679.6 C422.7,678.6 423.6,677.7 424.6,677.1 C425.6,676.5 426.9,676.2 428.0,676.2 C429.1,676.2 430.4,676.5 431.4,677.1 C432.4,677.7 433.3,678.6 433.9,679.6 C434.5,680.6 434.8,681.9 434.8,683.0Z" fill="none" stroke="#e0e0e0" stroke-width="5.3" filter="url(#bl2)"/>
<path d="M434.8,683.0 C434.8,684.1 434.5,685.4 433.9,686.4 C433.3,687.4 432.4,688.3 431.4,688.9 C430.4,689.5 429.1,689.8 428.0,689.8 C426.9,689.8 425.6,689.5 424.6,688.9 C423.6,688.3 422.7,687.4 422.1,686.4 C421.5,685.4 421.2,684.1 421.2,683.0 C421.2,681.9 421.5,680.6 422.1,679.6 C422.7,678.6 423.6,677.7 424.6,677.1 C425.6,676.5 426.9,676.2 428.0,676.2 C429.1,676.2 430.4,676.5 431.4,677.1 C432.4,677.7 433.3,678.6 433.9,679.6 C434.5,680.6 434.8,681.9 434.8,683.0Z" fill="#c8c8c8" stroke="url(#rg)" stroke-width="1.7" filter="url(#bl)"/>
<path d="M432.1,682.6 C432.1,683.2 432.0,683.9 431.6,684.5 C431.3,685.0 430.8,685.5 430.3,685.8 C429.7,686.2 429.0,686.3 428.4,686.3 C427.8,686.3 427.1,686.2 426.5,685.8 C426.0,685.5 425.5,685.0 425.2,684.5 C424.8,683.9 424.7,683.2 424.7,682.6 C424.7,682.0 424.8,681.3 425.2,680.7 C425.5,680.2 426.0,679.7 426.5,679.4 C427.1,679.0 427.8,678.9 428.4,678.9 C429.0,678.9 429.7,679.0 430.3,679.4 C430.8,679.7 431.3,680.2 431.6,680.7 C432.0,681.3 432.1,682.0 432.1,682.6Z" fill="#dedede" filter="url(#bl2)"/>
<path d="M481.8,689.0 C481.8,690.2 481.4,691.6 480.8,692.6 C480.2,693.6 479.2,694.6 478.2,695.2 C477.2,695.8 475.8,696.2 474.6,696.2 C473.4,696.2 472.0,695.8 471.0,695.2 C470.0,694.6 469.0,693.6 468.4,692.6 C467.8,691.6 467.4,690.2 467.4,689.0 C467.4,687.8 467.8,686.4 468.4,685.4 C469.0,684.4 470.0,683.4 471.0,682.8 C472.0,682.2 473.4,681.8 474.6,681.8 C475.8,681.8 477.2,682.2 478.2,682.8 C479.2,683.4 480.2,684.4 480.8,685.4 C481.4,686.4 481.8,687.8 481.8,689.0Z" fill="none" stroke="#e0e0e0" stroke-width="5.3" filter="url(#bl2)"/>
<path d="M481.8,689.0 C481.8,690.2 481.4,691.6 480.8,692.6 C480.2,693.6 479.2,694.6 478.2,695.2 C477.2,695.8 475.8,696.2 474.6,696.2 C473.4,696.2 472.0,695.8 471.0,695.2 C470.0,694.6 469.0,693.6 468.4,692.6 C467.8,691.6 467.4,690.2 467.4,689.0 C467.4,687.8 467.8,686.4 468.4,685.4 C469.0,684.4 470.0,683.4 471.0,682.8 C472.0,682.2 473.4,681.8 474.6,681.8 C475.8,681.8 477.2,682.2 478.2,682.8 C479.2,683.4 480.2,684.4 480.8,685.4 C481.4,686.4 481.8,687.8 481.8,689.0Z" fill="#c8c8c8" stroke="url(#rg)" stroke-width="1.7" filter="url(#bl)"/>
<path d="M479.0,688.6 C479.0,689.3 478.8,690.0 478.4,690.6 C478.1,691.2 477.6,691.7 477.0,692.0 C476.4,692.4 475.7,692.6 475.0,692.6 C474.3,692.6 473.6,692.4 473.0,692.0 C472.4,691.7 471.9,691.2 471.6,690.6 C471.2,690.0 471.0,689.3 471.0,688.6 C471.0,687.9 471.2,687.2 471.6,686.6 C471.9,686.0 472.4,685.5 473.0,685.2 C473.6,684.8 474.3,684.6 475.0,684.6 C475.7,684.6 476.4,684.8 477.0,685.2 C477.6,685.5 478.1,686.0 478.4,686.6 C478.8,687.2 479.0,687.9 479.0,688.6Z" fill="#dedede" filter="url(#bl2)"/>
<path d="M388.6,688.4 C388.6,689.6 388.2,690.9 387.7,691.9 C387.1,692.9 386.1,693.9 385.1,694.5 C384.1,695.0 382.8,695.4 381.6,695.4 C380.4,695.4 379.1,695.0 378.1,694.5 C377.1,693.9 376.1,692.9 375.5,691.9 C375.0,690.9 374.6,689.6 374.6,688.4 C374.6,687.2 375.0,685.9 375.5,684.9 C376.1,683.9 377.1,682.9 378.1,682.3 C379.1,681.8 380.4,681.4 381.6,681.4 C382.8,681.4 384.1,681.8 385.1,682.3 C386.1,682.9 387.1,683.9 387.7,684.9 C388.2,685.9 388.6,687.2 388.6,688.4Z" fill="none" stroke="#e0e0e0" stroke-width="5.3" filter="url(#bl2)"/>
<path d="M388.6,688.4 C388.6,689.6 388.2,690.9 387.7,691.9 C387.1,692.9 386.1,693.9 385.1,694.5 C384.1,695.0 382.8,695.4 381.6,695.4 C380.4,695.4 379.1,695.0 378.1,694.5 C377.1,693.9 376.1,692.9 375.5,691.9 C375.0,690.9 374.6,689.6 374.6,688.4 C374.6,687.2 375.0,685.9 375.5,684.9 C376.1,683.9 377.1,682.9 378.1,682.3 C379.1,681.8 380.4,681.4 381.6,681.4 C382.8,681.4 384.1,681.8 385.1,682.3 C386.1,682.9 387.1,683.9 387.7,684.9 C388.2,685.9 388.6,687.2 388.6,688.4Z" fill="#c8c8c8" stroke="url(#rg)" stroke-width="1.7" filter="url(#bl)"/>
<path d="M385.9,688.0 C385.9,688.6 385.7,689.4 385.3,689.9 C385.0,690.5 384.5,691.0 383.9,691.3 C383.4,691.7 382.6,691.9 382.0,691.9 C381.4,691.9 380.6,691.7 380.1,691.3 C379.5,691.0 379.0,690.5 378.7,689.9 C378.3,689.4 378.2,688.6 378.2,688.0 C378.2,687.4 378.3,686.6 378.7,686.1 C379.0,685.5 379.5,685.0 380.1,684.7 C380.6,684.3 381.4,684.1 382.0,684.1 C382.6,684.1 383.4,684.3 383.9,684.7 C384.5,685.0 385.0,685.5 385.3,686.1 C385.7,686.6 385.9,687.4 385.9,688.0Z" fill="#dedede" filter="url(#bl2)"/>
<path d="M358.4,707.6 C358.4,708.8 358.0,710.2 357.4,711.3 C356.8,712.4 355.8,713.4 354.7,714.0 C353.6,714.6 352.2,715.0 351.0,715.0 C349.8,715.0 348.4,714.6 347.3,714.0 C346.2,713.4 345.2,712.4 344.6,711.3 C344.0,710.2 343.6,708.8 343.6,707.6 C343.6,706.4 344.0,705.0 344.6,703.9 C345.2,702.8 346.2,701.8 347.3,701.2 C348.4,700.6 349.8,700.2 351.0,700.2 C352.2,700.2 353.6,700.6 354.7,701.2 C355.8,701.8 356.8,702.8 357.4,703.9 C358.0,705.0 358.4,706.4 358.4,707.6Z" fill="none" stroke="#e0e0e0" stroke-width="5.3" filter="url(#bl2)"/>
<path d="M358.4,707.6 C358.4,708.8 358.0,710.2 357.4,711.3 C356.8,712.4 355.8,713.4 354.7,714.0 C353.6,714.6 352.2,715.0 351.0,715.0 C349.8,715.0 348.4,714.6 347.3,714.0 C346.2,713.4 345.2,712.4 344.6,711.3 C344.0,710.2 343.6,708.8 343.6,707.6 C343.6,706.4 344.0,705.0 344.6,703.9 C345.2,702.8 346.2,701.8 347.3,701.2 C348.4,700.6 349.8,700.2 351.0,700.2 C352.2,700.2 353.6,700.6 354.7,701.2 C355.8,701.8 356.8,702.8 357.4,703.9 C358.0,705.0 358.4,706.4 358.4,707.6Z" fill="#c8c8c8" stroke="url(#rg)" stroke-width="1.7" filter="url(#bl)"/>
<path d="M355.5,707.2 C355.5,707.9 355.3,708.6 354.9,709.2 C354.6,709.8 354.0,710.4 353.4,710.7 C352.8,711.1 352.1,711.3 351.4,711.3 C350.7,711.3 350.0,711.1 349.4,710.7 C348.8,710.4 348.2,709.8 347.9,709.2 C347.5,708.6 347.3,707.9 347.3,707.2 C347.3,706.5 347.5,705.8 347.9,705.2 C348.2,704.6 348.8,704.0 349.4,703.7 C350.0,703.3 350.7,703.1 351.4,703.1 C352.1,703.1 352.8,703.3 353.4,703.7 C354.0,704.0 354.6,704.6 354.9,705.2 C355.3,705.8 355.5,706.5 355.5,707.2Z" fill="#dedede" filter="url(#bl2)"/>
<path d="M503.8,721.0 C503.8,722.3 503.4,723.8 502.8,724.9 C502.1,726.0 501.0,727.1 499.9,727.8 C498.8,728.4 497.3,728.8 496.0,728.8 C494.7,728.8 493.2,728.4 492.1,727.8 C491.0,727.1 489.9,726.0 489.2,724.9 C488.6,723.8 488.2,722.3 488.2,721.0 C488.2,719.7 488.6,718.2 489.2,717.1 C489.9,716.0 491.0,714.9 492.1,714.2 C493.2,713.6 494.7,713.2 496.0,713.2 C497.3,713.2 498.8,713.6 499.9,714.2 C501.0,714.9 502.1,716.0 502.8,717.1 C503.4,718.2 503.8,719.7 503.8,721.0Z" fill="none" stroke="#e0e0e0" stroke-width="5.3" filter="url(#bl2)"/>
<path d="M503.8,721.0 C503.8,722.3 503.4,723.8 502.8,724.9 C502.1,726.0 501.0,727.1 499.9,727.8 C498.8,728.4 497.3,728.8 496.0,728.8 C494.7,728.8 493.2,728.4 492.1,727.8 C491.0,727.1 489.9,726.0 489.2,724.9 C488.6,723.8 488.2,722.3 488.2,721.0 C488.2,719.7 488.6,718.2 489.2,717.1 C489.9,716.0 491.0,714.9 492.1,714.2 C493.2,713.6 494.7,713.2 496.0,713.2 C497.3,713.2 498.8,713.6 499.9,714.2 C501.0,714.9 502.1,716.0 502.8,717.1 C503.4,718.2 503.8,719.7 503.8,721.0Z" fill="#c8c8c8" stroke="url(#rg)" stroke-width="1.7" filter="url(#bl)"/>
<path d="M500.7,720.6 C500.7,721.3 500.5,722.1 500.1,722.7 C499.8,723.4 499.2,724.0 498.5,724.3 C497.9,724.7 497.1,724.9 496.4,724.9 C495.7,724.9 494.9,724.7 494.3,724.3 C493.6,724.0 493.0,723.4 492.7,722.7 C492.3,722.1 492.1,721.3 492.1,720.6 C492.1,719.9 492.3,719.1 492.7,718.5 C493.0,717.8 493.6,717.2 494.3,716.9 C494.9,716.5 495.7,716.3 496.4,716.3 C497.1,716.3 497.9,716.5 498.5,716.9 C499.2,717.2 499.8,717.8 500.1,718.5 C500.5,719.1 500.7,719.9 500.7,720.6Z" fill="#dedede" filter="url(#bl2)"/>
<path d="M326.8,673.0 C326.8,674.1 326.5,675.3 326.1,676.2 C325.6,677.2 324.8,678.1 324.1,678.6 C323.3,679.2 322.2,679.5 321.3,679.5 C320.4,679.5 319.3,679.2 318.6,678.6 C317.8,678.1 317.0,677.2 316.5,676.2 C316.1,675.3 315.8,674.1 315.8,673.0 C315.8,671.9 316.1,670.7 316.5,669.8 C317.0,668.8 317.8,667.9 318.6,667.4 C319.3,666.8 320.4,666.5 321.3,666.5 C322.2,666.5 323.3,666.8 324.1,667.4 C324.8,667.9 325.6,668.8 326.1,669.8 C326.5,670.7 326.8,671.9 326.8,673.0Z" fill="none" stroke="#e0e0e0" stroke-width="5.3" filter="url(#bl2)"/>
<path d="M326.8,673.0 C326.8,674.1 326.5,675.3 326.1,676.2 C325.6,677.2 324.8,678.1 324.1,678.6 C323.3,679.2 322.2,679.5 321.3,679.5 C320.4,679.5 319.3,679.2 318.6,678.6 C317.8,678.1 317.0,677.2 316.5,676.2 C316.1,675.3 315.8,674.1 315.8,673.0 C315.8,671.9 316.1,670.7 316.5,669.8 C317.0,668.8 317.8,667.9 318.6,667.4 C319.3,666.8 320.4,666.5 321.3,666.5 C322.2,666.5 323.3,666.8 324.1,667.4 C324.8,667.9 325.6,668.8 326.1,669.8 C326.5,670.7 326.8,671.9 326.8,673.0Z" fill="#c8c8c8" stroke="url(#rg)" stroke-width="1.7" filter="url(#bl)"/>
<path d="M324.7,672.6 C324.7,673.2 324.6,673.9 324.3,674.4 C324.1,674.9 323.6,675.4 323.2,675.7 C322.8,676.0 322.2,676.2 321.7,676.2 C321.2,676.2 320.6,676.0 320.2,675.7 C319.8,675.4 319.3,674.9 319.1,674.4 C318.8,673.9 318.7,673.2 318.7,672.6 C318.7,672.0 318.8,671.3 319.1,670.8 C319.3,670.3 319.8,669.8 320.2,669.5 C320.6,669.2 321.2,669.0 321.7,669.0 C322.2,669.0 322.8,669.2 323.2,669.5 C323.6,669.8 324.1,670.3 324.3,670.8 C324.6,671.3 324.7,672.0 324.7,672.6Z" fill="#dedede" filter="url(#bl2)"/>
<path d="M393.4,641.0 C393.4,642.5 393.0,644.1 392.2,645.4 C391.5,646.7 390.3,647.9 389.0,648.6 C387.7,649.4 386.1,649.8 384.6,649.8 C383.1,649.8 381.5,649.4 380.2,648.6 C378.9,647.9 377.7,646.7 377.0,645.4 C376.2,644.1 375.8,642.5 375.8,641.0 C375.8,639.5 376.2,637.9 377.0,636.6 C377.7,635.3 378.9,634.1 380.2,633.4 C381.5,632.6 383.1,632.2 384.6,632.2 C386.1,632.2 387.7,632.6 389.0,633.4 C390.3,634.1 391.5,635.3 392.2,636.6 C393.0,637.9 393.4,639.5 393.4,641.0Z" fill="none" stroke="#e0e0e0" stroke-width="5.3" filter="url(#bl2)"/>
<path d="M393.4,641.0 C393.4,642.5 393.0,644.1 392.2,645.4 C391.5,646.7 390.3,647.9 389.0,648.6 C387.7,649.4 386.1,649.8 384.6,649.8 C383.1,649.8 381.5,649.4 380.2,648.6 C378.9,647.9 377.7,646.7 377.0,645.4 C376.2,644.1 375.8,642.5 375.8,641.0 C375.8,639.5 376.2,637.9 377.0,636.6 C377.7,635.3 378.9,634.1 380.2,633.4 C381.5,632.6 383.1,632.2 384.6,632.2 C386.1,632.2 387.7,632.6 389.0,633.4 C390.3,634.1 391.5,635.3 392.2,636.6 C393.0,637.9 393.4,639.5 393.4,641.0Z" fill="#c8c8c8" stroke="url(#rg)" stroke-width="1.7" filter="url(#bl)"/>
<path d="M389.8,640.6 C389.8,641.4 389.6,642.3 389.2,643.0 C388.8,643.7 388.1,644.4 387.4,644.8 C386.7,645.2 385.8,645.4 385.0,645.4 C384.2,645.4 383.3,645.2 382.6,644.8 C381.9,644.4 381.2,643.7 380.8,643.0 C380.4,642.3 380.2,641.4 380.2,640.6 C380.2,639.8 380.4,638.9 380.8,638.2 C381.2,637.5 381.9,636.8 382.6,636.4 C383.3,636.0 384.2,635.8 385.0,635.8 C385.8,635.8 386.7,636.0 387.4,636.4 C388.1,636.8 388.8,637.5 389.2,638.2 C389.6,638.9 389.8,639.8 389.8,640.6Z" fill="#e6e6e6" filter="url(#bl2)"/>
<path d="M507,735 Q508,729 511.5,726" fill="none" stroke="#dcdcdc" stroke-width="1.6" filter="url(#bl)"/>
</g>
<rect x="516.3" y="431" width="1.4" height="134" fill="#f7f7f7"/>
<rect x="516.3" y="602" width="1.4" height="134" fill="#f7f7f7"/>
<rect x="491" y="744" width="16" height="5" fill="#000"/>
</svg></body></html>
